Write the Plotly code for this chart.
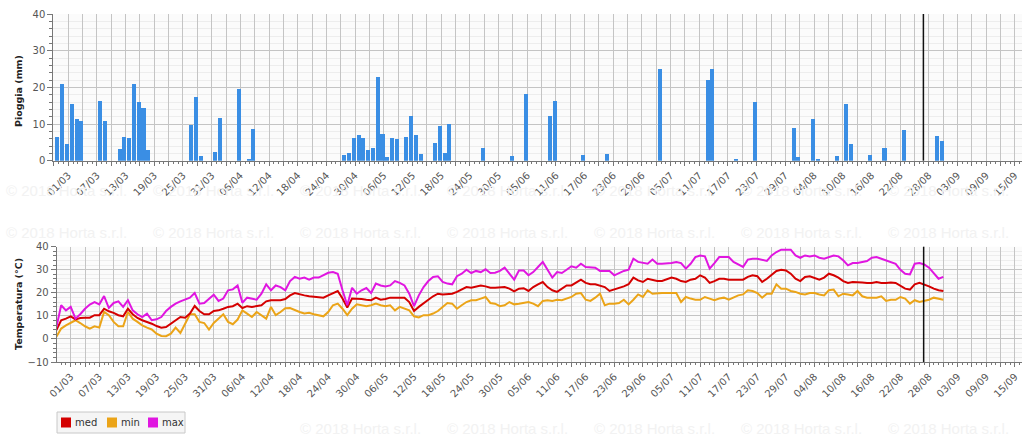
import plotly.graph_objects as go
import pandas as pd

# ---------------- data ----------------
temp_start = "2018-02-26"   # daily series 26/02 .. 31/08

t_max = [5.0, 14.6, 12.4, 13.9, 8.8, 10.7, 13.1, 14.9, 16.0, 15.0, 18.6, 13.4, 15.6, 16.3, 13.9, 16.8, 12.4, 10.7, 9.5, 11.0,
         8.1, 8.5, 9.5, 12.1, 13.9, 15.3, 16.3, 17.2, 17.9, 19.9, 15.3, 15.6, 17.5, 19.2, 16.5, 17.5, 21.1, 21.5, 23.2, 15.7,
         17.9, 17.5, 17.0, 19.6, 23.7, 21.1, 23.2, 22.5, 21.1, 25.1,
         26.9, 26.1, 26.6, 25.7, 26.6, 26.6, 27.6, 28.7, 29.0, 28.3, 21.1, 14.6, 22.2, 19.6, 21.1, 22.1, 19.9, 24.0, 23.2, 22.8,
         23.2, 25.1, 24.3, 23.2, 19.6, 14.2, 18.9, 22.5, 25.1, 26.9, 27.2, 24.7, 24.0, 23.7, 27.2, 28.3, 30.0, 28.6, 29.5, 29.0,
         30.2, 28.6, 28.7, 29.5, 30.9, 28.3, 25.7, 29.7,
         29.7, 27.6, 29.0, 31.2, 33.4, 30.0, 26.6, 29.0, 28.6, 30.0, 31.5, 30.9, 32.6, 31.2, 30.9, 30.9, 29.5, 29.5, 29.5, 27.6,
         28.6, 29.5, 30.0, 34.8, 33.4, 32.9, 32.6, 34.4, 32.6, 32.6, 32.6, 32.9, 33.4, 32.9, 30.5, 32.6, 35.5, 36.2, 35.8, 30.5,
         32.9, 35.5, 35.5, 35.5, 33.4, 32.3, 31.2, 34.4, 34.8,
         34.8, 34.4, 33.8, 36.2, 37.7, 38.7, 38.7, 38.7, 36.2, 35.2, 36.2, 35.8, 36.2, 35.2, 34.8, 35.5, 36.2, 35.8, 34.1, 31.9,
         32.9, 32.9, 33.4, 33.8, 35.2, 35.5, 34.8, 34.1, 33.4, 32.6, 30.0, 28.3, 28.0, 32.6, 32.9, 32.3, 30.9, 28.6, 26.1, 26.9]

t_med = [3.8, 8.1, 8.8, 9.8, 8.5, 9.1, 9.2, 9.2, 10.3, 10.3, 13.1, 12.0, 11.3, 10.3, 9.8, 13.1, 10.7, 9.1, 8.1, 7.4,
         6.6, 5.6, 4.9, 5.2, 6.6, 8.1, 9.5, 9.2, 11.0, 14.3, 12.1, 10.7, 10.7, 12.1, 12.4, 13.1, 13.9, 14.2, 15.3, 13.4,
         14.2, 13.9, 14.2, 14.6, 16.3, 16.8, 16.8, 16.8, 17.3, 18.9,
         19.9, 19.3, 18.9, 18.5, 18.2, 17.9, 17.9, 18.9, 19.9, 20.8, 17.5, 13.6, 17.5, 17.5, 17.3, 17.0, 16.8, 17.9, 17.0, 17.3,
         17.9, 17.9, 17.9, 17.9, 16.0, 12.1, 13.9, 15.3, 17.0, 18.5, 19.6, 19.3, 19.3, 19.6, 20.4, 21.4, 22.5, 22.2, 22.8, 23.2,
         22.8, 22.2, 22.2, 22.5, 22.5, 21.8, 20.6, 21.8,
         22.0, 20.8, 22.5, 23.7, 24.7, 22.5, 21.1, 20.4, 21.8, 23.2, 23.2, 24.3, 25.7, 24.3, 23.7, 23.7, 23.2, 22.5, 20.8, 21.4,
         22.2, 22.8, 23.7, 26.6, 25.4, 24.7, 26.1, 25.7, 25.1, 25.1, 25.7, 26.6, 26.1, 25.1, 24.7, 25.7, 26.1, 27.6, 26.6, 24.3,
         25.1, 26.1, 26.1, 25.7, 25.7, 25.7, 25.7, 26.9, 27.6,
         27.2, 24.7, 26.1, 27.6, 29.5, 30.0, 29.7, 28.3, 26.1, 25.1, 26.9, 27.2, 26.6, 25.7, 26.6, 28.3, 27.6, 26.6, 25.1, 24.3,
         24.7, 24.7, 24.5, 24.3, 24.3, 24.7, 24.3, 24.3, 24.5, 24.3, 23.2, 21.8, 21.4, 23.7, 24.3, 23.7, 22.8, 21.8, 21.1, 20.8]

t_min = [0.9, 4.5, 5.9, 6.9, 8.1, 6.9, 5.5, 4.5, 5.5, 4.9, 11.7, 10.3, 7.4, 5.5, 5.5, 11.7, 8.8, 7.4, 5.9, 4.9,
         4.1, 2.3, 1.3, 1.2, 2.3, 4.9, 2.6, 6.6, 10.7, 10.7, 7.4, 6.9, 4.1, 6.9, 8.8, 10.7, 7.4, 6.4, 8.4, 12.4,
         11.0, 9.5, 11.7, 10.3, 8.8, 13.9, 10.3, 11.7, 13.3, 13.4,
         12.4, 11.7, 11.0, 11.3, 10.7, 10.3, 9.8, 11.7, 14.6, 15.3, 13.1, 10.3, 13.1, 15.0, 14.6, 14.2, 14.6, 15.3, 14.6, 14.2,
         14.6, 12.4, 13.9, 13.1, 12.4, 9.8, 9.3, 10.3, 10.3, 11.0, 12.1, 13.9, 15.6, 15.3, 13.1, 14.6, 16.0, 16.8, 16.8, 17.5,
         18.2, 15.6, 15.3, 14.2, 14.6, 16.0, 15.0, 15.3,
         15.8, 16.0, 15.3, 14.2, 16.5, 16.8, 16.5, 17.0, 16.8, 17.5, 18.2, 19.6, 19.9, 17.0, 16.5, 17.9, 19.6, 14.6, 15.3, 15.3,
         15.6, 17.0, 15.0, 17.0, 19.3, 18.2, 21.1, 19.6, 19.9, 19.9, 19.9, 19.9, 19.9, 16.0, 18.2, 17.5, 17.0, 17.0, 18.2, 17.5,
         16.8, 17.5, 17.9, 17.0, 17.9, 18.9, 19.3, 21.1, 20.8,
         19.9, 17.9, 19.6, 19.6, 23.7, 21.8, 21.8, 20.8, 20.4, 19.6, 19.3, 19.9, 19.9, 19.3, 18.9, 21.1, 21.4, 18.5, 19.6, 19.3,
         18.9, 20.8, 18.5, 17.9, 17.9, 17.9, 18.5, 16.5, 17.0, 17.0, 18.2, 17.5, 15.3, 16.8, 16.0, 16.5, 17.0, 17.9, 17.5, 17.0]

rain_dates = ["2018-02-27", "2018-02-28", "2018-03-01", "2018-03-02", "2018-03-03", "2018-03-04", "2018-03-08",
              "2018-03-09", "2018-03-12", "2018-03-13", "2018-03-14", "2018-03-15", "2018-03-16", "2018-03-17",
              "2018-03-18", "2018-03-27", "2018-03-28", "2018-03-29", "2018-04-01", "2018-04-02", "2018-04-06",
              "2018-04-08", "2018-04-09", "2018-04-28", "2018-04-29", "2018-04-30", "2018-05-01", "2018-05-02",
              "2018-05-03", "2018-05-04", "2018-05-05", "2018-05-06", "2018-05-07", "2018-05-08", "2018-05-09",
              "2018-05-11", "2018-05-12", "2018-05-13", "2018-05-14", "2018-05-17", "2018-05-18", "2018-05-19",
              "2018-05-20", "2018-05-27", "2018-06-02", "2018-06-05", "2018-06-10", "2018-06-11", "2018-06-17",
              "2018-06-22", "2018-07-03", "2018-07-13", "2018-07-14", "2018-07-19", "2018-07-23", "2018-07-31",
              "2018-08-01", "2018-08-04", "2018-08-05", "2018-08-09", "2018-08-11", "2018-08-12", "2018-08-16",
              "2018-08-19", "2018-08-23", "2018-08-30", "2018-08-31"]
rain_mm = [6.4, 20.8, 4.5, 15.4, 11.3, 10.8, 16.4,
           10.7, 3.3, 6.5, 6.3, 20.8, 16.0, 14.3,
           3.0, 9.7, 17.5, 1.3, 2.5, 11.6, 19.5,
           0.4, 8.6, 1.5, 2.1, 6.3, 7.0, 6.1,
           2.9, 3.5, 22.7, 7.2, 0.9, 6.3, 5.9,
           6.5, 12.2, 7.0, 1.8, 4.9, 9.5, 2.0,
           10.0, 3.6, 1.3, 18.2, 12.2, 16.4, 1.5,
           1.8, 24.9, 22.0, 24.9, 0.4, 16.1, 8.8,
           1.1, 11.5, 0.5, 1.4, 15.5, 4.5, 1.5,
           3.4, 8.4, 6.7, 5.3]

tick_labels = ["01/03", "07/03", "13/03", "19/03", "25/03", "31/03", "06/04", "12/04", "18/04", "24/04",
               "30/04", "06/05", "12/05", "18/05", "24/05", "30/05", "05/06", "11/06", "17/06", "23/06",
               "29/06", "05/07", "11/07", "17/07", "23/07", "29/07", "04/08", "10/08", "16/08", "22/08",
               "28/08", "03/09", "09/09", "15/09"]
legend_names = ["med", "min", "max"]
today_marker = "2018-08-26 21:00"

# ---------------- helpers ----------------
W, H = 1023, 444
DAY = 86400000
temp_dates = pd.date_range(temp_start, periods=len(t_max), freq="D")
label_pos = pd.date_range("2018-03-01", periods=len(tick_labels), freq="6D")
grid_pos = pd.date_range("2018-02-26", "2018-09-16", freq="3D")
lab_map = {d: t for d, t in zip(label_pos, tick_labels)}
tickvals = [d.strftime("%Y-%m-%d") for d in grid_pos]
ticktext = [lab_map.get(d, "") for d in grid_pos]

def px_x(p):
    return p / W

def px_y(p):
    return 1 - p / H

C_BAR = "#3a8ee4"
C_MED = "#d40000"
C_MIN = "#eba418"
C_MAX = "#e016e0"
FONT = "DejaVu Sans"
GRID = "#c4c4c4"
MINOR_GRID = "#ededed"
AX = "#777777"
series_colors = {"med": C_MED, "min": C_MIN, "max": C_MAX}

fig = go.Figure()

fig.add_trace(go.Bar(x=rain_dates, y=rain_mm, xaxis="x", yaxis="y", marker=dict(color=C_BAR, line=dict(width=0)),
                     width=0.85 * DAY, offset=-0.625 * DAY, showlegend=False, name="Pioggia"))

for name, vals in [("min", t_min), ("med", t_med), ("max", t_max)]:
    fig.add_trace(go.Scatter(x=temp_dates, y=vals, xaxis="x2", yaxis="y2", mode="lines",
                             line=dict(color=series_colors[name], width=2), showlegend=False, name=name))

tickfont = dict(family=FONT, size=10, color="#555555")

def xaxis(domain, rng, anchor):
    return dict(domain=domain, range=rng, type="date", anchor=anchor,
                tickmode="array", tickvals=tickvals, ticktext=ticktext, tickangle=-45,
                tickfont=tickfont, ticks="outside", ticklen=4, tickcolor=AX,
                showgrid=True, gridcolor=GRID, gridwidth=1,
                showline=True, linecolor=AX, linewidth=1, zeroline=False,
                minor=dict(tickmode="linear", tick0="2018-02-26", dtick=DAY, ticks="outside",
                           ticklen=2, tickcolor=AX, showgrid=False),
                automargin=False, fixedrange=True)

def yaxis(domain, rng, anchor):
    return dict(domain=domain, range=rng, anchor=anchor, dtick=10, tick0=0,
                tickfont=tickfont, ticks="outside", ticklen=5, tickcolor=AX,
                showgrid=True, gridcolor=GRID, gridwidth=1,
                showline=True, linecolor=AX, linewidth=1, zeroline=False,
                minor=dict(dtick=2, ticks="outside", ticklen=3, tickcolor=AX, showgrid=True,
                           gridcolor=MINOR_GRID),
                automargin=False, fixedrange=True)

fig.update_layout(
    width=W, height=H,
    margin=dict(l=0, r=0, t=0, b=0),
    paper_bgcolor="white", plot_bgcolor="#fbfbfb",
    bargap=0,
    showlegend=False,
    xaxis=xaxis([px_x(53.3), px_x(1022)], ["2018-02-25 21:00", "2018-09-16 12:00"], "y"),
    yaxis=yaxis([px_y(160.7), px_y(14)], [0, 40], "x"),
    xaxis2=xaxis([px_x(56.7), px_x(1022)], ["2018-02-26 01:30", "2018-09-16 12:00"], "y2"),
    yaxis2=yaxis([px_y(362), px_y(246.7)], [-10, 40], "x2"),
)

# watermark (faint, outside plot areas)
wm = "© 2018 Horta s.r.l."
row_x = [4, 151, 298, 445, 592, 739, 886]
for yy, xs in [(190, row_x), (232, row_x), (428, row_x[2:])]:
    for xx in xs:
        fig.add_annotation(text=wm, x=px_x(xx), y=px_y(yy), xref="paper", yref="paper",
                           xanchor="left", yanchor="middle", showarrow=False,
                           font=dict(family="Liberation Sans", size=15, color="#f2f2f2"))

# axis titles
fig.add_annotation(text="<b>Pioggia (mm)</b>", x=px_x(18), y=px_y(91), xref="paper", yref="paper",
                   xanchor="center", yanchor="middle",
                   textangle=-90, showarrow=False, font=dict(family=FONT, size=9.5, color="#222222"))
fig.add_annotation(text="<b>Temperatura (°C)</b>", x=px_x(18), y=px_y(304), xref="paper", yref="paper",
                   xanchor="center", yanchor="middle",
                   textangle=-90, showarrow=False, font=dict(family=FONT, size=9.5, color="#222222"))

# today marker
for xr, yr in [("x", "y"), ("x2", "y2")]:
    fig.add_shape(type="line", xref=xr, yref=yr + " domain", x0=today_marker, x1=today_marker, y0=0, y1=1,
                  line=dict(color="#111111", width=1.5))

# legend box (compact, as in the original)
fig.add_shape(type="rect", xref="paper", yref="paper", x0=px_x(57), x1=px_x(185), y0=px_y(433), y1=px_y(412),
              line=dict(color="#c8c8c8", width=1), fillcolor="#f5f5f5", layer="above")
sq_left = [61, 107, 148]
for name, sx in zip(legend_names, sq_left):
    fig.add_shape(type="rect", xref="paper", yref="paper", x0=px_x(sx), x1=px_x(sx + 10),
                  y0=px_y(427.5), y1=px_y(417.5), line=dict(width=0), fillcolor=series_colors[name], layer="above")
    fig.add_annotation(text=name, x=px_x(sx + 12), y=px_y(422.5), xref="paper", yref="paper",
                       xanchor="left", yanchor="middle", showarrow=False,
                       font=dict(family=FONT, size=10, color="#333333"))

fig.write_html("out.html")
